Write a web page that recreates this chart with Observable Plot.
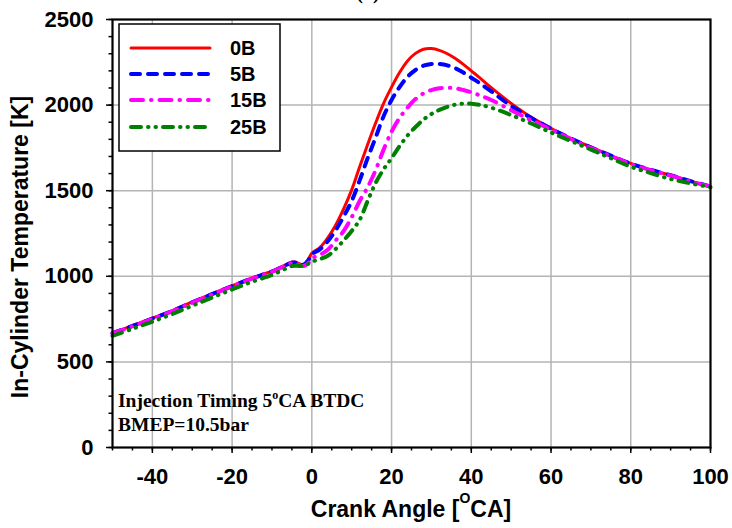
<!DOCTYPE html>
<html><head><meta charset="utf-8">
<script src="https://cdn.jsdelivr.net/npm/d3@7"></script>
<script src="https://cdn.jsdelivr.net/npm/@observablehq/plot@0.6"></script>
<style>body{margin:0;background:#fff} #chart svg{display:block}</style>
</head><body><div id="chart"></div>
<script>
const angles = [-50,-45,-40,-35,-30,-25,-20,-15,-10,-7,-5,-4,-3,-2,-1,0,2,4,6,8,10,12,14,16,18,20,22,24,26,28,30,32,34,36,38,40,42,45,50,55,60,65,70,75,80,85,90,95,100];
const temp0B  = [670,712,755,800,850,898,945,990,1030,1062,1083,1082,1072,1070,1095,1135,1168,1225,1300,1395,1505,1640,1770,1895,2010,2105,2190,2258,2302,2326,2330,2320,2300,2272,2238,2200,2162,2102,2010,1930,1865,1805,1755,1705,1660,1622,1590,1556,1525];
const temp5B  = [668,710,753,798,848,896,943,988,1028,1060,1080,1080,1070,1068,1090,1128,1157,1205,1270,1350,1440,1560,1690,1810,1935,2030,2105,2165,2205,2230,2240,2240,2232,2215,2190,2160,2130,2080,1995,1925,1862,1805,1753,1705,1658,1622,1590,1556,1525];
const temp15B = [666,708,751,796,846,894,941,986,1026,1058,1078,1076,1064,1060,1075,1105,1125,1155,1210,1265,1345,1440,1520,1620,1740,1845,1925,1985,2035,2068,2088,2098,2101,2098,2088,2075,2058,2030,1970,1912,1858,1802,1750,1702,1656,1620,1588,1554,1524];
const temp25B = [652,693,735,780,828,876,923,968,1008,1040,1060,1062,1060,1062,1072,1085,1100,1120,1160,1210,1265,1330,1440,1545,1625,1690,1760,1822,1872,1915,1948,1972,1990,2003,2009,2008,2002,1985,1942,1893,1840,1790,1740,1690,1640,1603,1568,1543,1520];

const seriesNames = ["0B","5B","15B","25B"];
const seriesValues = [temp0B, temp5B, temp15B, temp25B];
const seriesColors = ["#ff0000","#0000ff","#ff00ff","#008000"];
const seriesDash = [null, "9,8", "12,8,0.5,8", "10,7,0.5,7,0.5,7"];
const seriesWidth = [3, 4, 4, 4];

const xTicks = [-40,-20,0,20,40,60,80,100];
const yTicks = [0,500,1000,1500,2000,2500];
const xMinor = d3.range(-50, 101, 5);
const yMinor = d3.range(0, 2501, 100);

const rows = seriesNames.map((name, i) => angles.map((a, j) => ({angle: a, temp: seriesValues[i][j], series: name})));

const lineMarks = rows.map((data, i) => Plot.line(data, {
  x: "angle", y: "temp", stroke: seriesColors[i], strokeWidth: seriesWidth[i],
  strokeDasharray: seriesDash[i], strokeLinecap: "round", strokeLinejoin: "round", curve: "catmull-rom"
}));

const plot = Plot.plot({
  width: 732, height: 528,
  marginLeft: 112, marginRight: 22, marginTop: 19, marginBottom: 81,
  style: {fontFamily: "'Liberation Sans', Arial, sans-serif", background: "#fff", overflow: "visible", color: "#000"},
  x: {domain: [-50, 100]},
  y: {domain: [0, 2500]},
  marks: [
    Plot.gridX(xTicks.filter(d => d > -50 && d < 100), {stroke: "#b4b4b4", strokeOpacity: 1, strokeWidth: 1.5}),
    Plot.gridY(yTicks.filter(d => d > 0 && d < 2500), {stroke: "#b4b4b4", strokeOpacity: 1, strokeWidth: 1.5}),
    ...lineMarks,
    Plot.frame({stroke: "#000", strokeWidth: 2.2}),
    Plot.axisY(yMinor, {tickSize: 3.5, strokeWidth: 1.5, tickFormat: () => "", label: null}),
    Plot.axisY(yTicks, {tickSize: 6, strokeWidth: 1.5, tickPadding: 13, fontSize: 22, fontWeight: "bold", tickFormat: d => String(d), label: null}),
    Plot.axisX(xMinor, {tickSize: 3.5, strokeWidth: 1.5, tickFormat: () => "", label: null}),
    Plot.axisX(xTicks, {tickSize: 6, strokeWidth: 1.5, tickPadding: 15, fontSize: 22, fontWeight: "bold", tickFormat: d => String(d), label: null})
  ]
});
document.getElementById("chart").appendChild(plot);

const svg = d3.select(plot);
const sans = "'Liberation Sans', Arial, sans-serif";
const serif = "'Liberation Serif', 'Times New Roman', serif";

// partially visible panel title (cut at the top edge, as in the reference)
svg.append("text").attr("x", 368).attr("y", -1).attr("text-anchor", "middle")
  .style("font-family", serif).style("font-size", "20px").style("font-weight", "bold").text("(a)");

// y axis title
svg.append("text").attr("transform", "translate(28,247) rotate(-90)").attr("text-anchor", "middle")
  .style("font-family", sans).style("font-size", "23px").style("font-weight", "bold").attr("fill", "#000")
  .text("In-Cylinder Temperature [K]");

// x axis title
const xt = svg.append("text").attr("x", 411).attr("y", 517).attr("text-anchor", "middle")
  .style("font-family", sans).style("font-size", "23px").style("font-weight", "bold").attr("fill", "#000");
xt.append("tspan").text("Crank Angle [");
xt.append("tspan").attr("dy", -14).style("font-size", "14px").text("O");
xt.append("tspan").attr("dy", 14).text("CA]");

// annotation
const an = svg.append("text").attr("x", 118).attr("y", 407).attr("text-anchor", "start")
  .style("font-family", serif).style("font-size", "19.5px").style("font-weight", "bold").attr("fill", "#000");
an.append("tspan").text("Injection Timing 5");
an.append("tspan").attr("dy", -8).style("font-size", "12px").text("o");
an.append("tspan").attr("dy", 8).text("CA BTDC");
svg.append("text").attr("x", 118).attr("y", 431).attr("text-anchor", "start")
  .style("font-family", serif).style("font-size", "19.5px").style("font-weight", "bold").attr("fill", "#000")
  .text("BMEP=10.5bar");

// legend
const lg = svg.append("g");
lg.append("rect").attr("x", 119).attr("y", 24).attr("width", 161).attr("height", 127)
  .attr("fill", "#fff").attr("stroke", "#000").attr("stroke-width", 1.5);
const legendY = [48, 74, 100, 127];
seriesNames.forEach((name, i) => {
  lg.append("line").attr("x1", 131).attr("x2", 210).attr("y1", legendY[i]).attr("y2", legendY[i])
    .attr("stroke", seriesColors[i]).attr("stroke-width", seriesWidth[i])
    .attr("stroke-dasharray", seriesDash[i]).attr("stroke-linecap", "round");
  lg.append("text").attr("x", 230).attr("y", legendY[i]).attr("dy", "0.36em").attr("text-anchor", "start")
    .style("font-family", sans).style("font-size", "20px").style("font-weight", "bold").attr("fill", "#000")
    .text(name);
});
</script>
</body></html>
